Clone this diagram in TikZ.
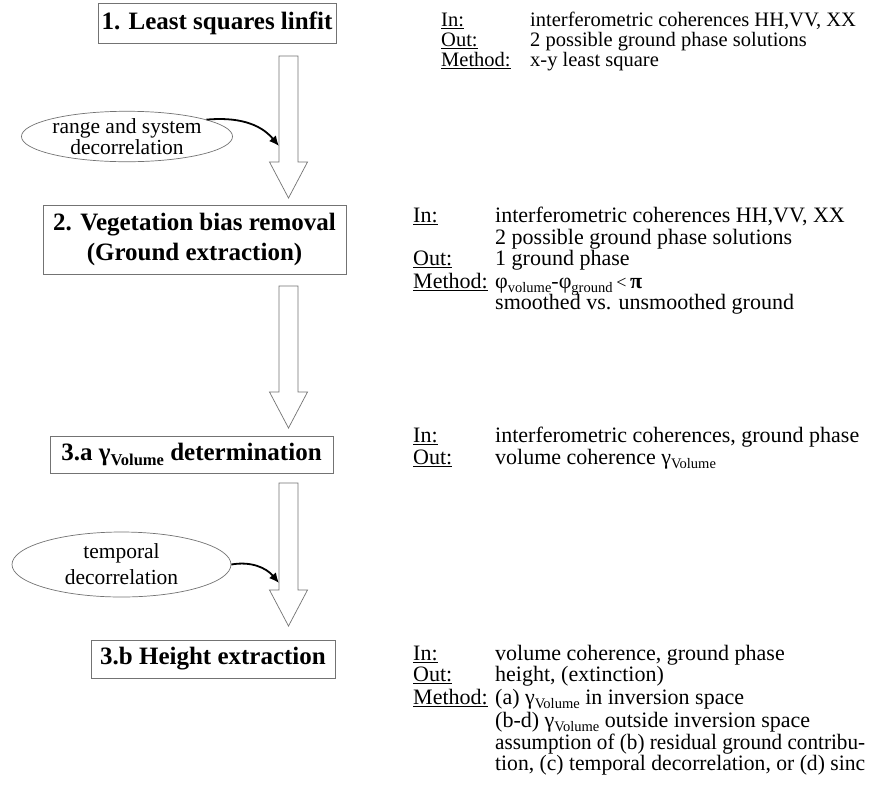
\documentclass[tikz,border=0pt]{standalone}
\usepackage{fontspec}
\usepackage{graphicx}
\setmainfont{Liberation Serif}
\usetikzlibrary{arrows.meta,shapes.geometric,calc}

% underlined field label
\newcommand\ulbl[1]{\setbox0\hbox{#1}\rlap{\rule[-2.6pt]{\wd0}{0.9pt}}\box0}
% lowered, reduced index
\newcommand\lowidx[1]{\raisebox{-0.22em}{\scalebox{0.66}{#1}}}
% line set to a fixed width
\newcommand\fitline[2]{\resizebox{#1}{\height}{#2}}
% hollow block arrow from a start coordinate down to a tip coordinate
\newcommand\fatarrow[2]{%
  \draw[fatarrowstyle] let \p1=(#1), \p2=(#2) in
    (\x1-9.5pt,\y1) -- (\x1+9.5pt,\y1) -- (\x1+9.5pt,\y2+36pt) -- (\x1+19pt,\y2+36pt)
    -- (\x2,\y2) -- (\x1-19pt,\y2+36pt) -- (\x1-9.5pt,\y2+36pt) -- cycle;}

\begin{document}
\begin{tikzpicture}[x=1pt,y=-1pt,
  titlebox/.style={draw=black!55, line width=0.9pt, inner sep=0pt, align=center,
    font=\fontsize{25}{30}\selectfont\bfseries},
  decbubble/.style={ellipse, draw=black!55, line width=0.7pt, inner sep=0pt, align=center},
  fatarrowstyle/.style={draw=black!55, line width=0.7pt, fill=white},
  curvearrow/.style={line width=1.8pt, -{Latex[length=10pt,width=9pt]}},
  info/.style={anchor=base west, inner sep=0pt, font=\fontsize{22}{22}\selectfont},
  infosmall/.style={anchor=base west, inner sep=0pt, font=\fontsize{20.5}{20.5}\selectfont}]

\path[fill=white] (0,0) rectangle (878,796);
\useasboundingbox (0,0) rectangle (878,796);

% processing steps
\node[titlebox, minimum width=238pt, minimum height=40pt] (b1) at (217,23) {1. Least squares linfit};
\node[titlebox, minimum width=303pt, minimum height=69pt] (b2) at (194.5,239.5)
  {2. Vegetation bias removal\\(Ground extraction)};
\node[titlebox, minimum width=283pt, minimum height=37pt] (b3a) at (191.5,454.5)
  {3.a γ\lowidx{Volume} determination};
\node[titlebox, minimum width=244pt, minimum height=38pt] (b3b) at (213,659) {3.b Height extraction};

% block arrows between the steps
\coordinate (a1s) at (288.5,56);  \coordinate (a1e) at (288.5,198);
\coordinate (a2s) at (288.5,286); \coordinate (a2e) at (288.5,428);
\coordinate (a3s) at (288.5,483); \coordinate (a3e) at (288.5,626);
\fatarrow{a1s}{a1e}
\fatarrow{a2s}{a2e}
\fatarrow{a3s}{a3e}

% decorrelation sources
\node[decbubble, minimum width=208pt, minimum height=47pt,
  font=\fontsize{21.5}{17.5}\selectfont] (e1) at (127,136.5) {range and system\\decorrelation};
\node[decbubble, minimum width=219pt, minimum height=65pt,
  font=\fontsize{21.5}{26}\selectfont] (e2) at (121.5,564.5) {temporal\\decorrelation};

\coordinate (c1) at (279,146);
\coordinate (c2) at (279,583);
\draw[curvearrow] (e1.12) to[out=5, in=130] (c1);
\draw[curvearrow] (e2.east) to[out=10, in=130] (c2);

% step 1 description
\node[infosmall] (l1in)  at (441,26) {\ulbl{In:}};
\node[infosmall] (l1out) at (441,46) {\ulbl{Out:}};
\node[infosmall] (l1met) at (441,66) {\ulbl{Method:}};
\node[infosmall] (v1in)  at (530,26) {interferometric coherences HH,VV, XX};
\node[infosmall] (v1out) at (530,46) {2 possible ground phase solutions};
\node[infosmall] (v1met) at (530,66) {x-y least square};

% step 2 description
\node[info] (l2in)  at (413,222) {\ulbl{In:}};
\node[info] (l2out) at (413,265) {\ulbl{Out:}};
\node[info] (l2met) at (413,288) {\ulbl{Method:}};
\node[info] (v2in)  at (495,222) {interferometric coherences HH,VV, XX};
\node[info] (v2in2) at (495,244) {2 possible ground phase solutions};
\node[info] (v2out) at (495,265) {1 ground phase};
\node[info] (v2met) at (495,288)
  {φ\lowidx{volume}-φ\lowidx{ground}\,{\fontsize{18}{18}\selectfont<}\,\textbf{π}};
\node[info] (v2met2) at (495,309) {smoothed vs. unsmoothed ground};

% step 3.a description
\node[info] (l3in)  at (413,442) {\ulbl{In:}};
\node[info] (l3out) at (413,464) {\ulbl{Out:}};
\node[info] (v3in)  at (495,442) {interferometric coherences, ground phase};
\node[info] (v3out) at (495,464) {volume coherence γ\lowidx{Volume}};

% step 3.b description
\node[info] (l4in)  at (413,660) {\ulbl{In:}};
\node[info] (l4out) at (413,681) {\ulbl{Out:}};
\node[info] (l4met) at (413,704) {\ulbl{Method:}};
\node[info] (v4in)  at (495,660) {volume coherence, ground phase};
\node[info] (v4out) at (495,681) {height, (extinction)};
\node[info] (v4met) at (495,704) {(a) γ\lowidx{Volume} in inversion space};
\node[info] (v4met2) at (495,727) {(b-d) γ\lowidx{Volume} outside inversion space};
\node[info] (v4met3) at (495,749) {\fitline{370pt}{assumption of (b) residual ground contribu-}};
\node[info] (v4met4) at (495,770) {\fitline{370pt}{tion, (c) temporal decorrelation, or (d) sinc}};
\end{tikzpicture}
\end{document}
